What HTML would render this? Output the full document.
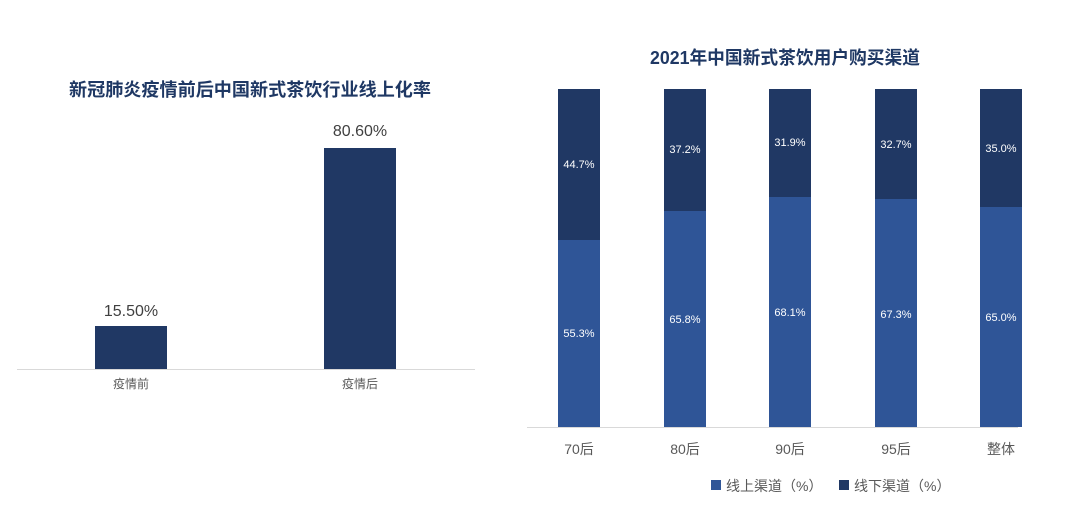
<!DOCTYPE html>
<html><head><meta charset="utf-8"><style>
body{margin:0;background:#fff;}
svg{display:block;font-family:"Liberation Sans","Noto Sans CJK SC",sans-serif;}
</style></head><body>
<svg width="1080" height="510" viewBox="0 0 1080 510">
<rect width="1080" height="510" fill="#fff"/>
<!-- Left chart -->
<text x="250" y="96" text-anchor="middle" font-size="18" font-weight="bold" fill="#1f3864" textLength="362" lengthAdjust="spacingAndGlyphs">新冠肺炎疫情前后中国新式茶饮行业线上化率</text>
<line x1="17" y1="369.5" x2="475" y2="369.5" stroke="#d9d9d9" stroke-width="1"/>
<rect x="95" y="326" width="72" height="43" fill="#203864"/>
<rect x="324" y="148" width="72" height="221" fill="#203864"/>
<text x="131" y="316" text-anchor="middle" font-size="16" fill="#404040">15.50%</text>
<text x="360" y="136" text-anchor="middle" font-size="16" fill="#404040">80.60%</text>
<text x="131" y="388" text-anchor="middle" font-size="12" fill="#595959">疫情前</text>
<text x="360" y="388" text-anchor="middle" font-size="12" fill="#595959">疫情后</text>
<!-- Right chart -->
<text x="785" y="64" text-anchor="middle" font-size="18" font-weight="bold" fill="#1f3864" textLength="270" lengthAdjust="spacingAndGlyphs">2021年中国新式茶饮用户购买渠道</text>
<line x1="527" y1="427.5" x2="1018" y2="427.5" stroke="#d9d9d9" stroke-width="1"/>
<g font-size="11" fill="#fff" text-anchor="middle">
<rect x="558" y="89" width="42" height="151" fill="#203864"/>
<rect x="558" y="240" width="42" height="187" fill="#2f5597"/>
<text x="579" y="168">44.7%</text><text x="579" y="337">55.3%</text>
<rect x="664" y="89" width="42" height="122" fill="#203864"/>
<rect x="664" y="211" width="42" height="216" fill="#2f5597"/>
<text x="685" y="153">37.2%</text><text x="685" y="323">65.8%</text>
<rect x="769" y="89" width="42" height="108" fill="#203864"/>
<rect x="769" y="197" width="42" height="230" fill="#2f5597"/>
<text x="790" y="146">31.9%</text><text x="790" y="316">68.1%</text>
<rect x="875" y="89" width="42" height="110" fill="#203864"/>
<rect x="875" y="199" width="42" height="228" fill="#2f5597"/>
<text x="896" y="148">32.7%</text><text x="896" y="318">67.3%</text>
<rect x="980" y="89" width="42" height="118" fill="#203864"/>
<rect x="980" y="207" width="42" height="220" fill="#2f5597"/>
<text x="1001" y="152">35.0%</text><text x="1001" y="321">65.0%</text>
</g>
<g font-size="14" fill="#595959" text-anchor="middle">
<text x="579" y="454">70后</text><text x="685" y="454">80后</text><text x="790" y="454">90后</text><text x="896" y="454">95后</text><text x="1001" y="454">整体</text>
</g>
<rect x="711" y="480" width="10" height="10" fill="#2f5597"/>
<text x="726" y="491" font-size="14" fill="#595959">线上渠道（%）</text>
<rect x="839" y="480" width="10" height="10" fill="#203864"/>
<text x="854" y="491" font-size="14" fill="#595959">线下渠道（%）</text>
</svg>
</body></html>
